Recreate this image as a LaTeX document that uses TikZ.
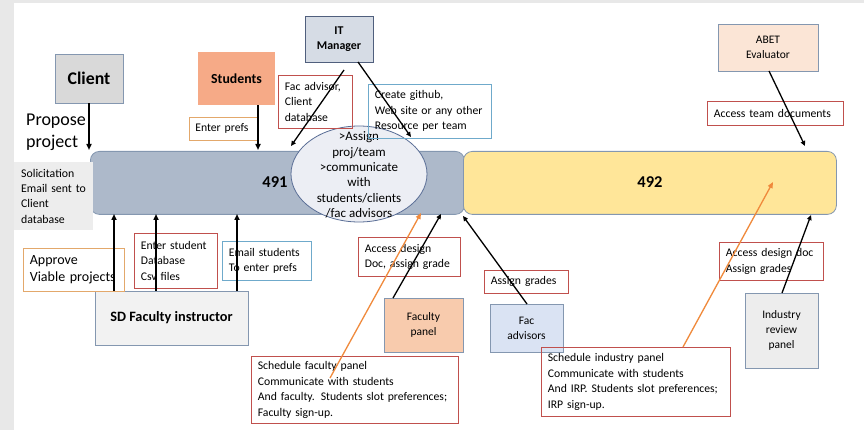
\documentclass[tikz,border=0pt]{standalone}
\usepackage{fontspec}
\setmainfont{Carlito}
\usetikzlibrary{arrows.meta,shapes.geometric}
\definecolor{bggray}{HTML}{E8E8E8}
\definecolor{edgeblue}{HTML}{8497B0}
\definecolor{boxred}{HTML}{C0504D}
\definecolor{boxblue}{HTML}{6FAACB}
\definecolor{boxorange}{HTML}{E3A86B}
\definecolor{arrorange}{HTML}{F08A3C}
\tikzset{
  x=1pt,y=-1pt,
  actor/.style={draw=edgeblue,line width=0.8pt,minimum width=#1,align=center,inner sep=2pt,font=\fontsize{11.5}{15}\selectfont},
  note/.style 2 args={draw=#1,line width=0.7pt,align=left,inner xsep=6.5pt,inner ysep=3pt,text width=#2-13pt,font=\fontsize{11.7}{15.5}\selectfont,anchor=north west},
  flow/.style={-{Triangle[length=6pt,width=5pt]},line width=2pt},
  thin flow/.style={-{Triangle[length=5pt,width=4.5pt]},line width=1.3pt},
  orange flow/.style={-{Triangle[length=6pt,width=5pt]},line width=1.3pt,draw=arrorange,color=arrorange},
  bar/.style={draw=edgeblue,line width=0.8pt,rounded corners=9pt,anchor=north west},
}
\begin{document}
\begin{tikzpicture}
\useasboundingbox (0,0) rectangle (864,430);
\fill[bggray] (0,0) rectangle (864,430);
\fill[white] (14,3) rectangle (864,430);

% bars
\node[bar,fill={rgb,255:red,173;green,185;blue,202},minimum width=374pt,minimum height=63pt] (b491) at (90,151) {};
\node[bar,fill={rgb,255:red,255;green,230;blue,153},minimum width=373pt,minimum height=63pt] (b492) at (463,151) {};
\node[font=\bfseries\fontsize{16.5}{18}\selectfont] (t491) at (275,182) {491};
\node[font=\bfseries\fontsize{16.5}{18}\selectfont] (t492) at (650,182) {492};

% ellipse
\node[ellipse,draw={rgb,255:red,90;green,110;blue,150},line width=0.8pt,fill={rgb,255:red,236;green,238;blue,244},minimum width=136pt,minimum height=96pt,inner sep=0pt] (ell) at (359,174) {};
\node[align=center,inner sep=0pt,font=\fontsize{13}{15.3}\selectfont] (elltext) at (359,175) {>Assign\\proj/team\\>communicate\\with\\students/clients\\/fac advisors};

% actors
\node[actor=68pt,minimum height=49pt,fill={rgb,255:red,217;green,217;blue,217},font=\bfseries\fontsize{17.8}{20}\selectfont] (client) at (89,78.5) {Client};
\node[actor=77pt,minimum height=53pt,draw=none,fill={rgb,255:red,246;green,170;blue,135},font=\bfseries\fontsize{13.8}{16}\selectfont] (students) at (236.5,78.5) {Students};
\node[actor=68pt,minimum height=46pt,draw={rgb,255:red,80;green,95;blue,125},fill={rgb,255:red,214;green,220;blue,229},font=\bfseries\fontsize{11.9}{15}\selectfont] (itm) at (339,39) {IT\\Manager};
\node[actor=100pt,minimum height=47pt,fill={rgb,255:red,251;green,229;blue,214}] (abet) at (768,47.5) {ABET\\Evaluator};
\node[actor=153pt,minimum height=54pt,fill={rgb,255:red,242;green,242;blue,242},font=\bfseries\fontsize{14.3}{16}\selectfont] (sdf) at (171.5,318) {SD Faculty instructor};
\node[actor=79pt,minimum height=54pt,fill={rgb,255:red,248;green,203;blue,173}] (fpanel) at (423.5,325) {Faculty\\panel};
\node[actor=73pt,minimum height=48pt,fill={rgb,255:red,218;green,227;blue,243}] (facadv) at (526.5,328) {Fac\\advisors};
\node[actor=73pt,minimum height=75pt,fill={rgb,255:red,237;green,237;blue,237}] (irp) at (781.5,330.5) {Industry\\review\\panel};

% left texts
\node[anchor=north west,align=left,inner sep=0pt,font=\fontsize{18}{22}\selectfont] (propose) at (26,114) {Propose\\project};
\node[anchor=north west,fill={rgb,255:red,237;green,237;blue,237},minimum width=79pt,minimum height=68pt,align=left,inner xsep=7pt,text width=65pt,font=\fontsize{11.8}{15.3}\selectfont] (solic) at (14,162) {Solicitation\\Email sent to\\Client\\database};

% notes
\node[note={boxorange}{69pt},minimum height=23pt,inner xsep=6pt] (prefs) at (189,117) {Enter prefs};
\node[note={boxred}{74pt},minimum height=53pt] (facdb) at (278,75) {Fac advisor,\\Client\\database};
\node[note={boxblue}{123pt},minimum height=54pt] (github) at (368,84) {Create github,\\Web site or any other\\Resource per team};
\node[note={boxred}{136pt},minimum height=24pt] (access) at (707,101) {Access team documents};
\node[note={boxorange}{101pt},minimum height=43pt,font=\fontsize{14}{17}\selectfont] (approve) at (23,248) {Approve\\Viable projects};
\node[note={boxred}{83pt},minimum height=55pt] (enterst) at (134,233) {Enter student\\Database\\Csv files};
\node[note={boxblue}{89pt},minimum height=39pt] (email) at (222,241) {Email students\\To enter prefs};
\node[note={boxred}{102pt},minimum height=39pt] (accdes) at (358,237) {Access design\\Doc, assign grade};
\node[note={boxred}{84pt},minimum height=23pt] (agrades) at (484,270) {Assign grades};
\node[note={boxred}{104pt},minimum height=38pt] (accdoc) at (719,242) {Access design doc\\Assign grades};
\node[note={boxred}{207pt},minimum height=67pt] (schedf) at (251,356) {Schedule faculty panel\\Communicate with students\\And faculty. Students slot preferences;\\Faculty sign-up.};
\node[note={boxred}{189pt},minimum height=69pt] (schedi) at (541,347) {Schedule industry panel\\Communicate with students\\And IRP. Students slot preferences;\\IRP sign-up.};

% coordinates for arrow ends
\coordinate (e1) at (89,150);
\coordinate (e2) at (258,150);
\coordinate (e3) at (291,146);
\coordinate (e4) at (411,137);
\coordinate (e5) at (805,146);
\coordinate (e6) at (114,214);
\coordinate (e7) at (156,214);
\coordinate (e8) at (237,214);
\coordinate (e9) at (441,214);
\coordinate (e10) at (463,216);
\coordinate (e11) at (811,215);
\coordinate (e12) at (421,213);
\coordinate (e13) at (773,182);
\coordinate (s1) at (344,70);
\coordinate (s2) at (358,62);
\coordinate (s3) at (769,71);
\coordinate (s4) at (393,298);
\coordinate (s5) at (527,304);
\coordinate (s6) at (782,293);
\coordinate (s7) at (330,378);
\coordinate (s8) at (683,347);

% arrows
\draw[flow] (client.south) -- (e1);
\draw[flow] (students.south -| e2) -- (e2);
\draw[thin flow] (s1) -- (e3);
\draw[thin flow] (s2) -- (e4);
\draw[thin flow] (s3) -- (e5);
\draw[flow] (sdf.north -| e6) -- (e6);
\draw[flow] (sdf.north -| e7) -- (e7);
\draw[flow] (sdf.north -| e8) -- (e8);
\draw[thin flow] (s4) -- (e9);
\draw[thin flow] (s5) -- (e10);
\draw[thin flow] (s6) -- (e11);
\draw[orange flow] (s7) -- (e12);
\draw[orange flow] (s8) -- (e13);
\end{tikzpicture}
\end{document}
